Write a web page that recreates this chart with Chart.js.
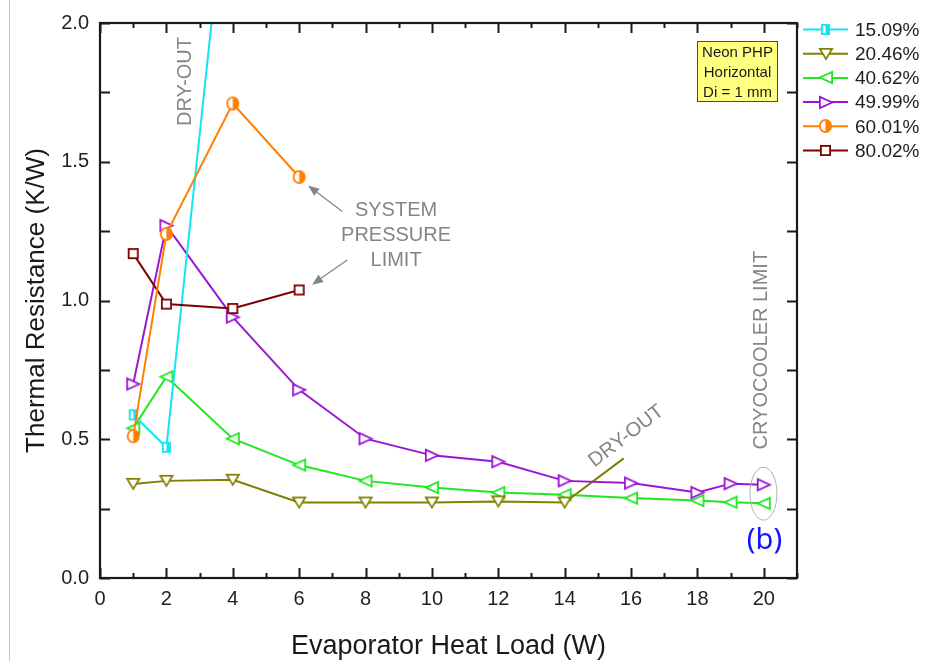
<!DOCTYPE html>
<html>
<head>
<meta charset="utf-8">
<script src="https://cdn.jsdelivr.net/npm/chart.js@4.4.1/dist/chart.umd.min.js"></script>
<style>
  html, body { margin: 0; padding: 0; background: #fff; }
  #wrap { position: relative; width: 927px; height: 661px; }
  #edge { position: absolute; left: 9px; top: 0; width: 1px; height: 661px; background: #c4c4c4; }
</style>
</head>
<body>
<div id="wrap">
  <canvas id="chart" width="927" height="661"></canvas>
  <div id="edge"></div>
</div>
<script>
// Thermal resistance of a neon pulsating heat pipe vs. evaporator heat load,
// one series per filling ratio.
const seriesLabels = ['15.09%', '20.46%', '40.62%', '49.99%', '60.01%', '80.02%'];

const load1509 = [1, 2, 4];
const res1509  = [0.588, 0.471, 2.72];

const load2046 = [1, 2, 4, 6, 8, 10, 12, 14, 15.78];
const res2046  = [0.339, 0.35, 0.354, 0.272, 0.272, 0.272, 0.276, 0.272, 0.431];

const load4062 = [1, 2, 4, 6, 8, 10, 12, 14, 16, 18, 19, 20];
const res4062  = [0.54, 0.725, 0.502, 0.407, 0.35, 0.326, 0.308, 0.30, 0.288, 0.279, 0.273, 0.269];

const load4999 = [1, 2, 4, 6, 8, 10, 12, 14, 16, 18, 19, 20];
const res4999  = [0.699, 1.27, 0.94, 0.678, 0.502, 0.442, 0.419, 0.35, 0.342, 0.308, 0.34, 0.336];

const load6001 = [1, 2, 4, 6];
const res6001  = [0.511, 1.24, 1.71, 1.445];

const load8002 = [1, 2, 4, 6];
const res8002  = [1.169, 0.987, 0.971, 1.038];

const xTickValues = [0, 2, 4, 6, 8, 10, 12, 14, 16, 18, 20];
const yTickValues = [0.0, 0.5, 1.0, 1.5, 2.0];

const FONT = "'Liberation Sans', Arial, sans-serif";
const GRAY = '#858585';

// ---- marker glyphs -------------------------------------------------------
function glyph(kind, color, w, h) {
  const pad = 2;
  const c = document.createElement('canvas');
  c.width = w + pad * 2; c.height = h + pad * 2;
  const g = c.getContext('2d');
  g.translate(pad, pad);
  g.lineWidth = 1.8;
  g.strokeStyle = color;
  g.lineJoin = 'miter';
  const e = 0.9;
  const tri = (pts) => {
    g.beginPath();
    g.moveTo(pts[0][0], pts[0][1]);
    g.lineTo(pts[1][0], pts[1][1]);
    g.lineTo(pts[2][0], pts[2][1]);
    g.closePath();
    g.fillStyle = '#fff'; g.fill(); g.stroke();
  };
  if (kind === 'down') tri([[e, e], [w - e, e], [w / 2, h - e]]);
  if (kind === 'left') tri([[e, h / 2], [w - e, e], [w - e, h - e]]);
  if (kind === 'right') tri([[e, e], [w - e, h / 2], [e, h - e]]);
  if (kind === 'square' || kind === 'halfSquare') {
    g.fillStyle = '#fff';
    g.fillRect(e, e, w - 2 * e, h - 2 * e);
    if (kind === 'halfSquare') { g.fillStyle = color; g.fillRect(w / 2, e, w / 2 - e, h - 2 * e); }
    g.strokeRect(e, e, w - 2 * e, h - 2 * e);
  }
  if (kind === 'halfCircle') {
    const rx = w / 2 - e, ry = h / 2 - e;
    g.beginPath(); g.ellipse(w / 2, h / 2, rx, ry, 0, 0, Math.PI * 2);
    g.fillStyle = '#fff'; g.fill();
    g.beginPath(); g.ellipse(w / 2, h / 2, rx, ry, 0, -Math.PI / 2, Math.PI / 2);
    g.closePath(); g.fillStyle = color; g.fill();
    g.beginPath(); g.ellipse(w / 2, h / 2, rx, ry, 0, 0, Math.PI * 2);
    g.stroke();
  }
  return c;
}

const colors = ['#12e6f2', '#808000', '#1ee81e', '#9b16d2', '#ff8000', '#800000'];
const markers = [
  glyph('halfSquare', colors[0], 9, 11),
  glyph('down', colors[1], 14, 12),
  glyph('left', colors[2], 14, 13),
  glyph('right', colors[3], 14, 13),
  glyph('halfCircle', colors[4], 13, 14),
  glyph('square', colors[5], 11, 11)
];

const pts = (xs, ys) => xs.map((x, i) => ({ x: x, y: ys[i] }));
const loads = [load1509, load2046, load4062, load4999, load6001, load8002];
const resist = [res1509, res2046, res4062, res4999, res6001, res8002];

// the 20.46% trace ends in an unmarked dry-out segment
const datasets = seriesLabels.map((label, i) => ({
  label: label,
  data: pts(loads[i], resist[i]),
  borderColor: colors[i],
  backgroundColor: colors[i],
  borderWidth: 2,
  showLine: true,
  tension: 0,
  pointStyle: (ctx) => (i === 1 && ctx.dataIndex === load2046.length - 1) ? false : markers[i],
  pointRadius: 7,
  pointHoverRadius: 7
}));
// draw order: later series sit on top
const drawOrder = [2, 1, 3, 0, 5, 4];
datasets.forEach((d, i) => { d.order = drawOrder.length - drawOrder.indexOf(i); });

// ---- annotation layout (data coordinates) -------------------------------
const notes = {
  dryOutLow: { x: 2.59, y: 1.789, text: 'DRY-OUT' },
  pressure: { x: 8.92, ys: [1.325, 1.236, 1.146], lines: ['SYSTEM', 'PRESSURE', 'LIMIT'] },
  arrows: [
    { from: [7.30, 1.321], to: [6.27, 1.414] },
    { from: [7.45, 1.146], to: [6.39, 1.057] }
  ],
  dryOutHigh: { x: 15.86, y: 0.511, text: 'DRY-OUT', angle: -37.6 },
  cryo: { x: 19.93, y: 0.821, text: 'CRYOCOOLER LIMIT' },
  ring: { x: 19.99, y: 0.304 },
  panel: { x: 20.02, y: 0.136, text: '(b)' },
  info: { x: 18.0, y: 1.936, lines: ['Neon PHP', 'Horizontal', 'Di = 1 mm'] }
};

const framePlugin = {
  id: 'frame',
  afterDraw(chart) {
    const { ctx, chartArea: a, scales } = chart;
    const xs = scales.x, ys = scales.y;
    ctx.save();
    ctx.strokeStyle = '#1a1a1a';
    ctx.lineWidth = 2;
    ctx.beginPath();
    // x ticks (major even, minor odd), bottom and top, pointing inward
    for (let v = 0; v <= 21; v++) {
      const px = Math.round(xs.getPixelForValue(v)) + 0.5;
      const len = v % 2 === 0 ? 10 : 5;
      ctx.moveTo(px, a.bottom); ctx.lineTo(px, a.bottom - len);
      ctx.moveTo(px, a.top); ctx.lineTo(px, a.top + len);
    }
    // y ticks every 0.25, left and right
    for (let k = 0; k <= 8; k++) {
      const py = Math.round(ys.getPixelForValue(k * 0.25)) + 0.5;
      ctx.moveTo(a.left, py); ctx.lineTo(a.left + 10, py);
      ctx.moveTo(a.right, py); ctx.lineTo(a.right - 10, py);
    }
    ctx.stroke();
    ctx.lineWidth = 2.2;
    ctx.strokeRect(a.left, a.top, a.right - a.left, a.bottom - a.top);
    ctx.restore();
  }
};

function arrow(ctx, x1, y1, x2, y2) {
  const ang = Math.atan2(y2 - y1, x2 - x1);
  const head = 11, half = 4.5;
  const bx = x2 - head * Math.cos(ang), by = y2 - head * Math.sin(ang);
  ctx.beginPath(); ctx.moveTo(x1, y1); ctx.lineTo(bx, by); ctx.stroke();
  ctx.beginPath();
  ctx.moveTo(x2, y2);
  ctx.lineTo(bx + half * Math.sin(ang), by - half * Math.cos(ang));
  ctx.lineTo(bx - half * Math.sin(ang), by + half * Math.cos(ang));
  ctx.closePath(); ctx.fill();
}

const notesPlugin = {
  id: 'notes',
  afterDatasetsDraw(chart) {
    const { ctx, scales } = chart;
    const X = (v) => scales.x.getPixelForValue(v);
    const Y = (v) => scales.y.getPixelForValue(v);
    ctx.save();
    ctx.fillStyle = GRAY;
    ctx.strokeStyle = GRAY;
    ctx.textAlign = 'center';
    ctx.textBaseline = 'middle';
    ctx.font = '20px ' + FONT;

    // vertical dry-out label
    ctx.save();
    ctx.translate(X(notes.dryOutLow.x), Y(notes.dryOutLow.y));
    ctx.rotate(-Math.PI / 2);
    ctx.fillText(notes.dryOutLow.text, 0, 0);
    ctx.restore();

    notes.pressure.lines.forEach((t, i) => ctx.fillText(t, X(notes.pressure.x), Y(notes.pressure.ys[i])));

    ctx.lineWidth = 1.2;
    notes.arrows.forEach((a) => arrow(ctx, X(a.from[0]), Y(a.from[1]), X(a.to[0]), Y(a.to[1])));

    ctx.save();
    ctx.translate(X(notes.dryOutHigh.x), Y(notes.dryOutHigh.y));
    ctx.rotate(notes.dryOutHigh.angle * Math.PI / 180);
    ctx.fillText(notes.dryOutHigh.text, 0, 0);
    ctx.restore();

    ctx.save();
    ctx.translate(X(notes.cryo.x), Y(notes.cryo.y));
    ctx.rotate(-Math.PI / 2);
    ctx.font = '20px ' + FONT;
    ctx.fillText(notes.cryo.text, 0, 0);
    ctx.restore();

    ctx.strokeStyle = '#b0b0b0';
    ctx.lineWidth = 1;
    ctx.beginPath();
    ctx.ellipse(X(notes.ring.x), Y(notes.ring.y), 13.5, 26.5, 0, 0, Math.PI * 2);
    ctx.stroke();

    ctx.fillStyle = '#1414ff';
    ctx.font = "29px 'Noto Sans', 'Open Sans', sans-serif";
    ctx.fillText(notes.panel.text, X(notes.panel.x), Y(notes.panel.y));

    // info box
    const bx = Math.round(X(notes.info.x)) + 0.5, by = Math.round(Y(notes.info.y)) + 0.5;
    const bw = 80, bh = 60;
    ctx.fillStyle = '#ffff80';
    ctx.fillRect(bx, by, bw, bh);
    ctx.strokeStyle = '#4a4a4a';
    ctx.lineWidth = 1;
    ctx.strokeRect(bx, by, bw, bh);
    ctx.fillStyle = '#1a1a1a';
    ctx.font = '15px ' + FONT;
    notes.info.lines.forEach((t, i) => ctx.fillText(t, bx + bw / 2, by + 11.5 + i * 20));
    ctx.restore();
  }
};

const legendPlugin = {
  id: 'sideLegend',
  afterDraw(chart) {
    const { ctx } = chart;
    const x0 = 803, x1 = 848, tx = 855;
    ctx.save();
    ctx.font = '19px ' + FONT;
    ctx.textBaseline = 'middle';
    ctx.textAlign = 'left';
    chart.data.datasets.forEach((d, i) => {
      const y = 29.5 + i * 24.2;
      ctx.strokeStyle = d.borderColor;
      ctx.lineWidth = 2;
      ctx.beginPath(); ctx.moveTo(x0, y); ctx.lineTo(x1, y); ctx.stroke();
      const m = markers[i];
      ctx.drawImage(m, Math.round((x0 + x1) / 2 - m.width / 2), Math.round(y - m.height / 2));
      ctx.fillStyle = '#1f1f1f';
      ctx.fillText(d.label, tx, y + 1);
    });
    ctx.restore();
  }
};

new Chart(document.getElementById('chart'), {
  type: 'scatter',
  data: { datasets: datasets },
  options: {
    responsive: false,
    animation: false,
    events: [],
    layout: { padding: { left: 0, right: 130, top: 18, bottom: 0 } },
    plugins: { legend: { display: false }, tooltip: { enabled: false } },
    scales: {
      x: {
        type: 'linear', min: 0, max: 21,
        grid: { display: false, drawTicks: false },
        border: { display: false },
        afterBuildTicks: (s) => { s.ticks = xTickValues.map((v) => ({ value: v })); },
        afterFit: (s) => { s.height = 83; },
        ticks: { color: '#1f1f1f', font: { family: FONT, size: 20 }, padding: 9, maxRotation: 0 },
        title: { display: true, text: 'Evaporator Heat Load (W)', color: '#1a1a1a',
                 font: { family: FONT, size: 27 }, padding: { top: 0, bottom: -2 } }
      },
      y: {
        type: 'linear', min: 0, max: 2,
        grid: { display: false, drawTicks: false },
        border: { display: false },
        afterBuildTicks: (s) => { s.ticks = yTickValues.map((v) => ({ value: v })); },
        afterFit: (s) => { s.width = 100; },
        ticks: { color: '#1f1f1f', font: { family: FONT, size: 20 }, padding: 11,
                 callback: (v) => Number(v).toFixed(1) },
        title: { display: true, text: 'Thermal Resistance (K/W)', color: '#1a1a1a',
                 font: { family: FONT, size: 26 }, padding: { top: 21, bottom: 0 } }
      }
    }
  },
  plugins: [framePlugin, notesPlugin, legendPlugin]
});
</script>
</body>
</html>
